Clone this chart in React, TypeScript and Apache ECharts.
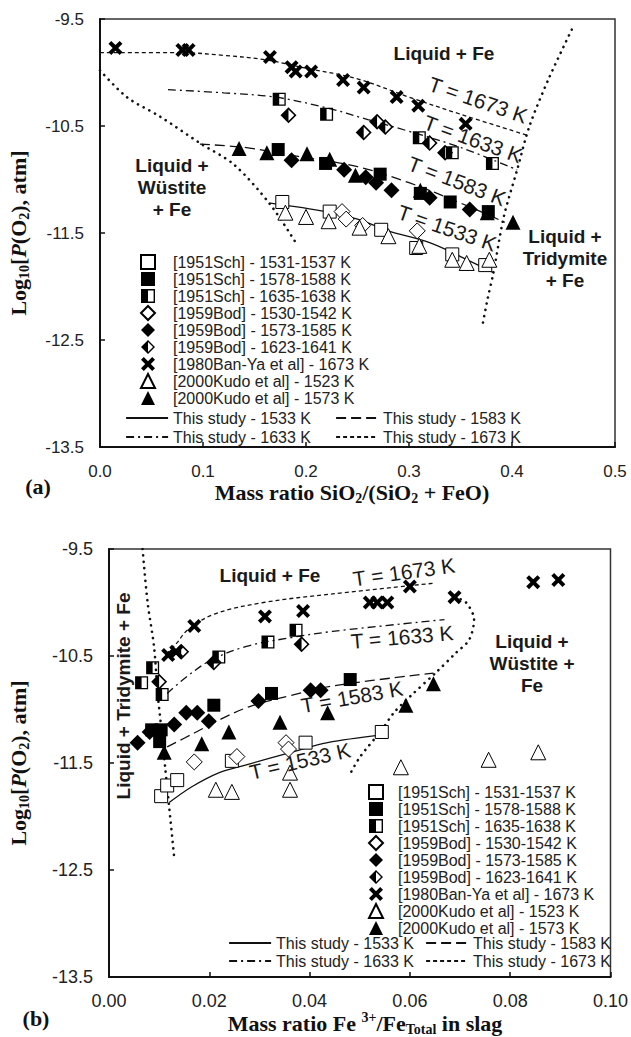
import React, { useEffect, useRef } from "react";
import * as echarts from "echarts";

// ---------- tick labels ----------
const yTicks = [-13.5, -12.5, -11.5, -10.5, -9.5];
const xTicksA = [0, 0.1, 0.2, 0.3, 0.4, 0.5];
const xTicksB = [0, 0.02, 0.04, 0.06, 0.08, 0.1];

// ---------- series names ----------
const N_SCH1531 = "[1951Sch] - 1531-1537 K";
const N_SCH1578 = "[1951Sch] - 1578-1588 K";
const N_SCH1635 = "[1951Sch] - 1635-1638 K";
const N_BOD1530 = "[1959Bod] - 1530-1542 K";
const N_BOD1573 = "[1959Bod] - 1573-1585 K";
const N_BOD1623 = "[1959Bod] - 1623-1641 K";
const N_BAN1673 = "[1980Ban-Ya et al] - 1673 K";
const N_KUDO1523 = "[2000Kudo et al] - 1523 K";
const N_KUDO1573 = "[2000Kudo et al] - 1573 K";
const N_L1533 = "This study - 1533 K";
const N_L1583 = "This study - 1583 K";
const N_L1633 = "This study - 1633 K";
const N_L1673 = "This study - 1673 K";

// ---------- chart (a): SiO2/(SiO2+FeO) ----------
const aSch1531 = [[0.177, -11.21], [0.223, -11.3], [0.273, -11.47], [0.307, -11.64], [0.342, -11.7], [0.374, -11.8]];
const aSch1578 = [[0.173, -10.72], [0.219, -10.85], [0.272, -10.95], [0.311, -11.13], [0.34, -11.21], [0.377, -11.3]];
const aSch1635 = [[0.174, -10.25], [0.22, -10.39], [0.31, -10.61], [0.342, -10.75], [0.381, -10.85]];
const aBod1530 = [[0.235, -11.3], [0.239, -11.37], [0.255, -11.43], [0.308, -11.48]];
const aBod1573 = [[0.186, -10.82], [0.237, -10.91], [0.258, -10.98], [0.268, -11.03], [0.283, -11.1], [0.32, -11.17], [0.359, -11.28]];
const aBod1623 = [[0.183, -10.4], [0.256, -10.56], [0.269, -10.46], [0.277, -10.51], [0.32, -10.66], [0.335, -10.75]];
const aBan1673 = [[0.015, -9.77], [0.08, -9.79], [0.086, -9.79], [0.165, -9.855], [0.186, -9.95], [0.19, -9.99], [0.205, -9.99], [0.236, -10.07], [0.256, -10.14], [0.288, -10.23], [0.309, -10.31], [0.355, -10.48]];
const aKudo1523 = [[0.18, -11.31], [0.2, -11.35], [0.222, -11.39], [0.252, -11.45], [0.28, -11.53], [0.31, -11.62], [0.342, -11.75], [0.356, -11.78], [0.378, -11.75]];
const aKudo1573 = [[0.135, -10.71], [0.162, -10.75], [0.201, -10.76], [0.223, -10.81], [0.248, -10.96], [0.311, -11.1], [0.376, -11.31], [0.401, -11.4]];

const aLine1533 = [[0.165, -11.22], [0.22, -11.3], [0.25, -11.37], [0.28, -11.48], [0.32, -11.59], [0.35, -11.72], [0.382, -11.87]];
const aLine1583 = [[0.097, -10.67], [0.14, -10.7], [0.19, -10.78], [0.25, -10.88], [0.3, -11.03], [0.35, -11.22], [0.393, -11.4]];
const aLine1633 = [[0.066, -10.16], [0.12, -10.19], [0.17, -10.23], [0.22, -10.33], [0.26, -10.44], [0.3, -10.55], [0.35, -10.7], [0.405, -10.91]];
const aLine1673 = [[0, -9.815], [0.08, -9.815], [0.12, -9.84], [0.16, -9.88], [0.2, -9.96], [0.25, -10.06], [0.3, -10.23], [0.35, -10.39], [0.416, -10.59]];

const aWustite = [[0, -9.98], [0.026, -10.23], [0.058, -10.41], [0.097, -10.66], [0.13, -10.86], [0.165, -11.23], [0.192, -11.62]];
const aTridymite = [[0.458, -9.6], [0.436, -10.05], [0.417, -10.5], [0.405, -10.91], [0.392, -11.35], [0.382, -11.87], [0.376, -12.13], [0.371, -12.38]];

// ---------- chart (b): Fe3+/Fe total ----------
const bSch1531 = [[0.0104, -11.81], [0.0116, -11.71], [0.0136, -11.66], [0.0245, -11.48], [0.0392, -11.31], [0.0544, -11.21]];
const bSch1578 = [[0.0085, -11.19], [0.0104, -11.19], [0.0101, -11.3], [0.0209, -10.96], [0.0324, -10.85], [0.0481, -10.72]];
const bSch1635 = [[0.0065, -10.75], [0.0087, -10.61], [0.0106, -10.86], [0.0219, -10.51], [0.0317, -10.37], [0.0373, -10.26]];
const bBod1530 = [[0.017, -11.49], [0.0255, -11.44], [0.0353, -11.31], [0.0358, -11.37]];
const bBod1573 = [[0.0057, -11.31], [0.0081, -11.21], [0.013, -11.14], [0.0154, -11.03], [0.0176, -11.03], [0.0199, -11.11], [0.0298, -10.92], [0.0402, -10.82], [0.0422, -10.82]];
const bBod1623 = [[0.01, -10.74], [0.0144, -10.46], [0.0209, -10.56], [0.0384, -10.39]];
const bBan1673 = [[0.0118, -10.49], [0.0134, -10.46], [0.017, -10.22], [0.0311, -10.13], [0.0387, -10.08], [0.052, -10.0], [0.0535, -10.0], [0.0555, -10.0], [0.06, -9.85], [0.0689, -9.95], [0.0846, -9.81], [0.0896, -9.79]];
const bKudo1523 = [[0.0213, -11.75], [0.0245, -11.77], [0.0361, -11.59], [0.0361, -11.75], [0.0582, -11.54], [0.0757, -11.47], [0.0856, -11.4]];
const bKudo1573 = [[0.011, -11.4], [0.0185, -11.32], [0.0239, -11.21], [0.0341, -11.12], [0.0436, -11.03], [0.0592, -10.96], [0.0647, -10.76]];

const bLine1533 = [[0.012, -11.87], [0.0166, -11.72], [0.022, -11.59], [0.0272, -11.52], [0.0363, -11.4], [0.0436, -11.31], [0.054, -11.24]];
const bLine1583 = [[0.0116, -11.35], [0.017, -11.22], [0.0223, -11.09], [0.0282, -10.97], [0.0361, -10.87], [0.0446, -10.78], [0.0647, -10.66]];
const bLine1633 = [[0.0116, -10.85], [0.0156, -10.69], [0.0203, -10.54], [0.0274, -10.41], [0.0361, -10.33], [0.0446, -10.27], [0.0669, -10.16]];
const bLine1673 = [[0.0114, -10.48], [0.0135, -10.38], [0.0156, -10.26], [0.0209, -10.11], [0.0308, -10.0], [0.0446, -9.92], [0.0647, -9.82]];

const bTridymite = [[0.0067, -9.5], [0.0077, -10.0], [0.009, -10.42], [0.0097, -10.85], [0.0104, -11.16], [0.0112, -11.54], [0.012, -11.91], [0.013, -12.38]];
const bWustite = [[0.0689, -9.95], [0.0712, -10.0], [0.0728, -10.16], [0.0718, -10.35], [0.0692, -10.47], [0.0653, -10.65], [0.06, -10.88], [0.0568, -11.03], [0.0544, -11.19], [0.0501, -11.44], [0.0481, -11.6]];

// ---------- styles ----------
const SANS = "'Liberation Sans', Arial, sans-serif";
const SERIF = "'Liberation Serif', 'Times New Roman', serif";
const INK = "#111";

const HALF_SQUARE = "path://M0 0H10V10H0Z M5 1V9H9V1Z";
const HALF_DIAMOND = "path://M5 0L10 5L5 10L0 5Z M5 1.4L5 8.6L8.6 5Z";
const CROSS = "path://M0 2L2 0L5 3L8 0L10 2L7 5L10 8L8 10L5 7L2 10L0 8L3 5Z";

const markerStyle: Record<string, any> = {
  [N_SCH1531]: { symbol: "rect", size: 13, fill: "#fff", bw: 1 },
  [N_SCH1578]: { symbol: "rect", size: 13, fill: "#000", bw: 0 },
  [N_SCH1635]: { symbol: HALF_SQUARE, size: 13, fill: "#000", bw: 0 },
  [N_BOD1530]: { symbol: "diamond", size: 16, fill: "#fff", bw: 1 },
  [N_BOD1573]: { symbol: "diamond", size: 16, fill: "#000", bw: 0 },
  [N_BOD1623]: { symbol: HALF_DIAMOND, size: 16, fill: "#000", bw: 0 },
  [N_BAN1673]: { symbol: CROSS, size: 14, fill: "#000", bw: 0 },
  [N_KUDO1523]: { symbol: "triangle", size: 15, fill: "#fff", bw: 1 },
  [N_KUDO1573]: { symbol: "triangle", size: 15, fill: "#000", bw: 0 },
};
const lineStyleOf: Record<string, any> = {
  [N_L1533]: "solid",
  [N_L1583]: [10, 5],
  [N_L1633]: [8, 4, 2, 4],
  [N_L1673]: [4, 3],
};

const scatterNames = [N_SCH1531, N_SCH1578, N_SCH1635, N_BOD1530, N_BOD1573, N_BOD1623, N_BAN1673, N_KUDO1523, N_KUDO1573];

const scatterData = [
  [aSch1531, aSch1578, aSch1635, aBod1530, aBod1573, aBod1623, aBan1673, aKudo1523, aKudo1573],
  [bSch1531, bSch1578, bSch1635, bBod1530, bBod1573, bBod1623, bBan1673, bKudo1523, bKudo1573],
];
const lineNames = [N_L1533, N_L1583, N_L1633, N_L1673];
const lineData = [
  [aLine1533, aLine1583, aLine1633, aLine1673],
  [bLine1533, bLine1583, bLine1633, bLine1673],
];
const boundaryData = [
  [aWustite, aTridymite],
  [bTridymite, bWustite],
];

function buildSeries() {
  const series: any[] = [];
  for (let g = 0; g < 2; g++) {
    boundaryData[g].forEach((d, k) => {
      series.push({
        type: "line",
        name: `boundary-${g}-${k}`,
        xAxisIndex: g,
        yAxisIndex: g,
        data: d,
        symbol: "none",
        smooth: 0.3,
        color: "#111",
        lineStyle: { color: "#111", width: 2.6, type: [0.1, 6.3], cap: "round" },
        z: 2,
      });
    });
    lineNames.forEach((n, k) => {
      series.push({
        type: "line",
        name: n,
        xAxisIndex: g,
        yAxisIndex: g,
        data: lineData[g][k],
        symbol: "none",
        smooth: 0.35,
        color: "#111",
        lineStyle: { color: "#111", width: 1.3, type: lineStyleOf[n] },
        z: 3,
      });
    });
    scatterNames.forEach((n, k) => {
      const m = markerStyle[n];
      series.push({
        type: "scatter",
        name: n,
        xAxisIndex: g,
        yAxisIndex: g,
        data: scatterData[g][k],
        symbol: m.symbol,
        symbolSize: m.size,
        itemStyle: { color: m.fill, borderColor: "#000", borderWidth: m.bw, opacity: 1 },
        z: 4,
      });
    });
  }
  return series;
}

const legendText = { fontFamily: SANS, fontSize: 16, color: "#222", lineHeight: 17 };

function lineLegend(name: string, left: number, top: number) {
  return {
    data: [name],
    left,
    top,
    padding: 0,
    itemWidth: 42,
    itemHeight: 13,
    selectedMode: false,
    textStyle: legendText,
    lineStyle: { width: 2.2 },
    itemStyle: { color: "rgba(0,0,0,0)", borderColor: "rgba(0,0,0,0)", borderWidth: 0, opacity: 0 },
  };
}

function markerLegend(left: number, top: number, textPad: number) {
  return {
    data: scatterNames,
    orient: "vertical",
    left,
    top,
    padding: 0,
    itemWidth: 14,
    itemHeight: 14,
    itemGap: 0,
    selectedMode: false,
    textStyle: { ...legendText, padding: [0, 0, 0, textPad] },
  };
}

function txt(text: string, x: number, y: number, deg: number, size: number, bold = false, lh?: number) {
  return {
    type: "text",
    x,
    y,
    rotation: (deg * Math.PI) / 180,
    z: 20,
    style: {
      text,
      fontFamily: SANS,
      fontSize: size,
      fontWeight: bold ? "bold" : "normal",
      lineHeight: lh || size + 2,
      fill: "#1a1a1a",
      align: "center",
      verticalAlign: "middle",
      textAlign: "center",
      textVerticalAlign: "middle",
    },
  };
}

const richTitle = {
  b: { fontFamily: SERIF, fontWeight: "bold", fontSize: 22, lineHeight: 26, fill: INK, color: INK },
  i: { fontFamily: SERIF, fontWeight: "bold", fontStyle: "italic", fontSize: 22, lineHeight: 26, fill: INK, color: INK },
  s: { fontFamily: SERIF, fontWeight: "bold", fontSize: 14, lineHeight: 15, verticalAlign: "bottom", fill: INK, color: INK },
  p: { fontFamily: SERIF, fontWeight: "bold", fontSize: 14, lineHeight: 14, verticalAlign: "top", fill: INK, color: INK },
};

function richText(text: string, x: number, y: number, deg: number) {
  return {
    type: "text",
    x,
    y,
    rotation: (deg * Math.PI) / 180,
    z: 20,
    style: {
      text,
      rich: richTitle,
      align: "center",
      verticalAlign: "middle",
      textAlign: "center",
      textVerticalAlign: "middle",
    },
  };
}

function axisPair(g: number) {
  const x = g === 0
    ? { min: 0, max: 0.5, interval: 0.1, ticks: xTicksA, dec: 1, size: 17, margin: 16 }
    : { min: 0, max: 0.1, interval: 0.02, ticks: xTicksB, dec: 2, size: 18, margin: 15 };
  const xAxis = {
    type: "value",
    gridIndex: g,
    min: x.min,
    max: x.max,
    interval: x.interval,
    axisLine: { show: true, onZero: false, lineStyle: { color: INK, width: 2 } },
    axisTick: { show: true, inside: true, length: 5, customValues: x.ticks, lineStyle: { color: INK, width: 1.5 } },
    axisLabel: {
      customValues: x.ticks,
      formatter: (v: number) => v.toFixed(x.dec),
      fontFamily: SANS,
      fontSize: x.size,
      color: "#222",
      margin: x.margin,
      showMaxLabel: true,
    },
    splitLine: { show: false },
  };
  const yAxis = {
    type: "value",
    gridIndex: g,
    min: -13.5,
    max: -9.5,
    axisLine: { show: true, onZero: false, lineStyle: { color: INK, width: 2 } },
    axisTick: { show: true, inside: true, length: 5, customValues: yTicks, lineStyle: { color: INK, width: 1.5 } },
    axisLabel: {
      customValues: yTicks,
      formatter: (v: number) => v.toFixed(1),
      fontFamily: SANS,
      fontSize: x.size,
      color: "#222",
      margin: 16,
    },
    splitLine: { show: false },
  };
  return { xAxis, yAxis };
}

function buildOption() {
  const a = axisPair(0);
  const b = axisPair(1);
  return {
    animation: false,
    backgroundColor: "#fff",
    grid: [
      { left: 100, top: 19, width: 515, height: 428, show: true, borderColor: "#333", borderWidth: 1.5, backgroundColor: "transparent" },
      { left: 109, top: 549, width: 507, height: 428, show: true, borderColor: "#333", borderWidth: 1.5, backgroundColor: "transparent" },
    ],
    xAxis: [a.xAxis, b.xAxis],
    yAxis: [a.yAxis, b.yAxis],
    legend: [
      markerLegend(140, 253.5, 13),
      lineLegend(N_L1533, 125, 409.5),
      lineLegend(N_L1583, 335, 409.5),
      lineLegend(N_L1633, 125, 428.5),
      lineLegend(N_L1673, 335, 428.5),
      markerLegend(368, 783.5, 10),
      lineLegend(N_L1533, 228, 934.5),
      lineLegend(N_L1583, 425, 934.5),
      lineLegend(N_L1633, 228, 952.5),
      lineLegend(N_L1673, 425, 952.5),
    ],
    graphic: [
      // chart (a) region labels
      txt("Liquid + Fe", 444, 53, 0, 19, true),
      txt("Liquid +\nWüstite\n+ Fe", 172, 187, 0, 19, true, 22),
      txt("Liquid +\nTridymite\n+ Fe", 565, 258, 0, 19, true, 22),
      txt("T = 1673 K", 478, 100, -19, 21),
      txt("T = 1633 K", 473, 139, -20, 21),
      txt("T = 1583 K", 457, 181, -21, 21),
      txt("T = 1533 K", 447, 228, -19, 21),
      // chart (b) region labels
      txt("Liquid + Fe", 270, 575, 0, 19, true),
      txt("Liquid +\nWüstite +\nFe", 532, 663, 0, 19, true, 22),
      txt("Liquid + Tridymite + Fe", 123, 696, 90, 19, true),
      txt("T = 1673 K", 404, 572, 8, 21),
      txt("T = 1633 K", 402, 637, 5, 21),
      txt("T = 1583 K", 352, 697, 10, 21),
      txt("T = 1533 K", 300, 761, 13, 21),
      // axis titles
      richText("{b|Log}{s|10}{b|[}{i|P}{b|(O}{s|2}{b|), atm]}", 18, 233, 90),
      richText("{b|Log}{s|10}{b|[}{i|P}{b|(O}{s|2}{b|), atm]}", 18, 763, 90),
      richText("{b|Mass ratio SiO}{s|2}{b|/(SiO}{s|2}{b| + FeO)}", 352, 492, 0),
      richText("{b|Mass ratio Fe }{p|3+}{b|/Fe}{s|Total}{b| in slag}", 365, 1023, 0),
      richText("{b|(a)}", 38, 486, 0),
      richText("{b|(b)}", 36, 1018, 0),
    ],
    series: buildSeries(),
  };
}

export default function App() {
  const ref = useRef<HTMLDivElement>(null);
  useEffect(() => {
    document.body.style.margin = "0";
    if (!ref.current) return;
    const chart = echarts.init(ref.current, null, { renderer: "svg" });
    chart.setOption(buildOption() as any);
    return () => chart.dispose();
  }, []);
  return <div ref={ref} style={{ width: 631, height: 1037 }} />;
}
